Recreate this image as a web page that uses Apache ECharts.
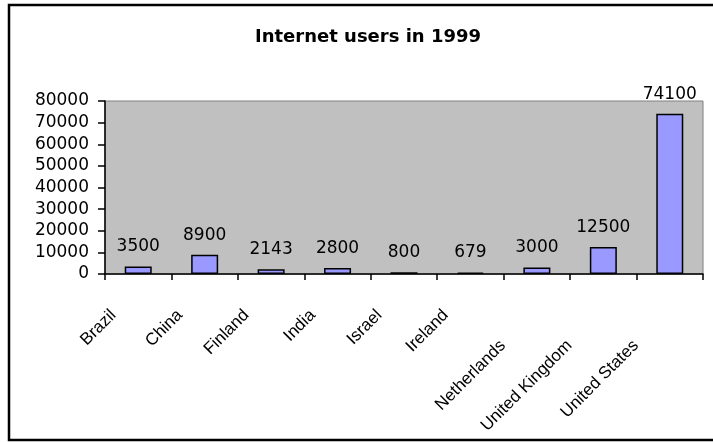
<!DOCTYPE html>
<html>
<head>
<meta charset="utf-8">
<script src="https://cdn.jsdelivr.net/npm/echarts@6/dist/echarts.min.js"></script>
<style>
  html, body { margin: 0; padding: 0; background: #fff; }
  #chart { width: 713px; height: 442px; }
</style>
</head>
<body>
<div id="chart"></div>
<script>
  // data
  var countries = ['Brazil', 'China', 'Finland', 'India', 'Israel', 'Ireland', 'Netherlands', 'United Kingdom', 'United States'];
  var users = [3500, 8900, 2143, 2800, 800, 679, 3000, 12500, 74100];

  var labelFont = 'DejaVu Sans';
  var catFont = 'Liberation Sans';

  var myChart = echarts.init(document.getElementById('chart'));
  var option = {
    backgroundColor: '#fff',
    animation: false,
    title: {
      text: 'Internet users in 1999',
      left: 250,
      top: 23,
      textStyle: { fontFamily: labelFont, fontSize: 18, fontWeight: 'bold', color: '#000' }
    },
    graphic: [{
      type: 'rect',
      shape: { x: 9, y: 5, width: 712, height: 435 },
      style: { fill: 'none', stroke: '#000', lineWidth: 2.5 },
      silent: true
    }],
    grid: {
      left: 105,
      right: 10,
      top: 101,
      bottom: 168,
      show: true,
      backgroundColor: '#C0C0C0',
      borderColor: '#808080',
      borderWidth: 1
    },
    xAxis: {
      type: 'category',
      data: countries,
      axisLine: { lineStyle: { color: '#000', width: 1.5 } },
      axisTick: { show: true, length: 6, lineStyle: { color: '#000', width: 1.5 } },
      axisLabel: {
        rotate: 45,
        margin: 35,
        interval: 0,
        color: '#000',
        formatter: function (v) {
          return (v.length > 10 ? '{l|' : '{s|') + v + '}';
        },
        rich: {
          s: { fontFamily: catFont, fontSize: 17, color: '#000', padding: [0, 20, 30, 0] },
          l: { fontFamily: catFont, fontSize: 17, color: '#000', padding: [0, 48, 0, 0] }
        }
      }
    },
    yAxis: {
      type: 'value',
      min: 0,
      max: 80000,
      interval: 10000,
      splitLine: { show: false },
      axisLine: { show: true, lineStyle: { color: '#000', width: 1.5 } },
      axisTick: { show: true, length: 7, lineStyle: { color: '#000', width: 1.5 } },
      axisLabel: {
        fontFamily: labelFont,
        fontSize: 17,
        color: '#000',
        margin: 16,
        formatter: function (v) { return String(v); }
      }
    },
    series: [{
      type: 'bar',
      data: users,
      barWidth: 27,
      itemStyle: { color: '#9999FF', borderColor: '#000', borderWidth: 1.5 },
      label: {
        show: true,
        position: 'top',
        distance: 11,
        fontFamily: labelFont,
        fontSize: 17,
        color: '#000'
      }
    }]
  };
  myChart.setOption(option);
</script>
</body>
</html>
